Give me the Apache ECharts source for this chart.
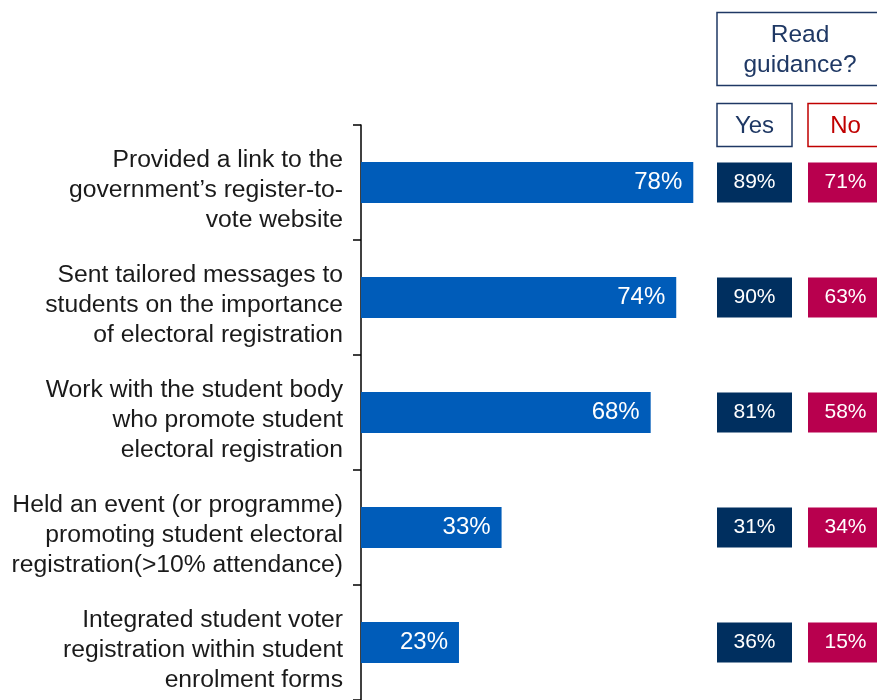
<!DOCTYPE html>
<html>
<head>
<meta charset="utf-8">
<script src="https://cdn.jsdelivr.net/npm/echarts@6/dist/echarts.min.js"></script>
<style>
  html, body { margin: 0; padding: 0; background: #ffffff; }
  #chart { width: 877px; height: 700px; }
</style>
</head>
<body>
<div id="chart"></div>
<script>
// Activities carried out to promote student electoral registration
const categories = [
  'Provided a link to the\ngovernment\u2019s register-to-\nvote website',
  'Sent tailored messages to\nstudents on the importance\nof electoral registration',
  'Work with the student body\nwho promote student\nelectoral registration',
  'Held an event (or programme)\npromoting student electoral\nregistration(>10% attendance)',
  'Integrated student voter\nregistration within student\nenrolment forms'
];
// Share of all institutions (%)
const overallShare = [78, 74, 68, 33, 23];

// Split by whether the guidance was read
const groupTitle = 'Read\nguidance?';
const groupNames = ['Yes', 'No'];
const readYes = [89, 90, 81, 31, 36];
const readNo = [71, 63, 58, 34, 15];

const FONT = 'Liberation Sans, Arial, Helvetica, sans-serif';
const BAR_BLUE = '#005cb9';
const NAVY = '#002f5f';
const CRIMSON = '#b8004e';
const NAVY_TEXT = '#1f3864';
const RED_TEXT = '#c00000';

// Right-hand panel: one column per group, column pitch in px
const PANEL_LEFT = 709;
const COL_PITCH = 91;
const CHART_W = 877;

// Category label placement relative to the axis
const LABEL_GAP = 18;
const LABEL_DROP = 8;

const chart = echarts.init(document.getElementById('chart'), null, { renderer: 'canvas' });

function groupPoints(values, col) {
  return values.map((v, i) => [col, i, v]);
}

const option = {
  backgroundColor: '#ffffff',
  animation: false,
  grid: [
    { left: 361, top: 125, width: 426, bottom: 0, containLabel: false },
    { left: PANEL_LEFT, top: 125, right: 0, bottom: 0, containLabel: false }
  ],
  xAxis: [
    { type: 'value', gridIndex: 0, min: 0, max: 100, show: false },
    {
      type: 'value', gridIndex: 1, show: false,
      min: -0.5, max: (CHART_W - PANEL_LEFT) / COL_PITCH - 0.5
    }
  ],
  yAxis: [
    {
      type: 'category', gridIndex: 0, data: categories, inverse: true,
      axisLine: { show: true, lineStyle: { color: '#000000', width: 1.5 } },
      axisTick: { show: true, length: 8, lineStyle: { color: '#000000', width: 1.5 } },
      axisLabel: { show: false },
      splitLine: { show: false }
    },
    {
      type: 'category', gridIndex: 1, data: categories, inverse: true,
      show: false
    }
  ],
  series: [
    {
      type: 'bar', xAxisIndex: 0, yAxisIndex: 0,
      data: overallShare, barWidth: 41,
      itemStyle: { color: BAR_BLUE },
      label: {
        show: true, position: 'insideRight', distance: 11,
        color: '#ffffff', fontFamily: FONT, fontSize: 24,
        formatter: p => p.value + '%'
      }
    },
    {
      type: 'scatter', xAxisIndex: 1, yAxisIndex: 1,
      symbol: 'rect', symbolSize: [75, 40], clip: false,
      encode: { x: 0, y: 1 },
      data: groupPoints(readYes, 0),
      itemStyle: { color: NAVY, opacity: 1 },
      label: {
        show: true, position: 'inside', color: '#ffffff',
        fontFamily: FONT, fontSize: 21,
        formatter: p => p.value[2] + '%'
      }
    },
    {
      type: 'scatter', xAxisIndex: 1, yAxisIndex: 1,
      symbol: 'rect', symbolSize: [75, 40], clip: false,
      encode: { x: 0, y: 1 },
      data: groupPoints(readNo, 1),
      itemStyle: { color: CRIMSON, opacity: 1 },
      label: {
        show: true, position: 'inside', color: '#ffffff',
        fontFamily: FONT, fontSize: 21,
        formatter: p => p.value[2] + '%'
      }
    }
  ]
};

chart.setOption(option);

const graphics = [];

// Category names, right-aligned against the vertical axis
const axisX = chart.convertToPixel({ xAxisIndex: 0 }, 0);
categories.forEach((name, i) => {
  const cy = chart.convertToPixel({ yAxisIndex: 0 }, i);
  graphics.push({
    type: 'text',
    x: axisX - LABEL_GAP, y: cy + LABEL_DROP,
    style: {
      text: name, fill: '#1a1a1a', font: '24.7px ' + FONT,
      lineHeight: 30, textAlign: 'right', textVerticalAlign: 'middle'
    }
  });
});

// Column headers above the Yes / No boxes
const colX = groupNames.map((g, i) => chart.convertToPixel({ xAxisIndex: 1 }, i));
const headerColors = [NAVY_TEXT, RED_TEXT];
const boxW = 75;
groupNames.forEach((g, i) => {
  graphics.push({
    type: 'rect',
    shape: { x: colX[i] - boxW / 2, y: 103.5, width: boxW, height: 43 },
    style: { fill: '#ffffff', stroke: headerColors[i], lineWidth: 1.5 }
  });
  graphics.push({
    type: 'text',
    x: colX[i], y: 126,
    style: {
      text: g, fill: headerColors[i], font: '24px ' + FONT,
      textAlign: 'center', textVerticalAlign: 'middle'
    }
  });
});
const titleLeft = colX[0] - boxW / 2;
const titleRight = colX[1] + boxW / 2;
graphics.push({
  type: 'rect',
  shape: { x: titleLeft, y: 12.5, width: titleRight - titleLeft, height: 73 },
  style: { fill: '#ffffff', stroke: NAVY_TEXT, lineWidth: 1.5 }
});
graphics.push({
  type: 'text',
  x: (titleLeft + titleRight) / 2, y: 50,
  style: {
    text: groupTitle, fill: NAVY_TEXT, font: '24.5px ' + FONT,
    lineHeight: 30, textAlign: 'center', textVerticalAlign: 'middle'
  }
});
chart.setOption({ graphic: graphics });
</script>
</body>
</html>
